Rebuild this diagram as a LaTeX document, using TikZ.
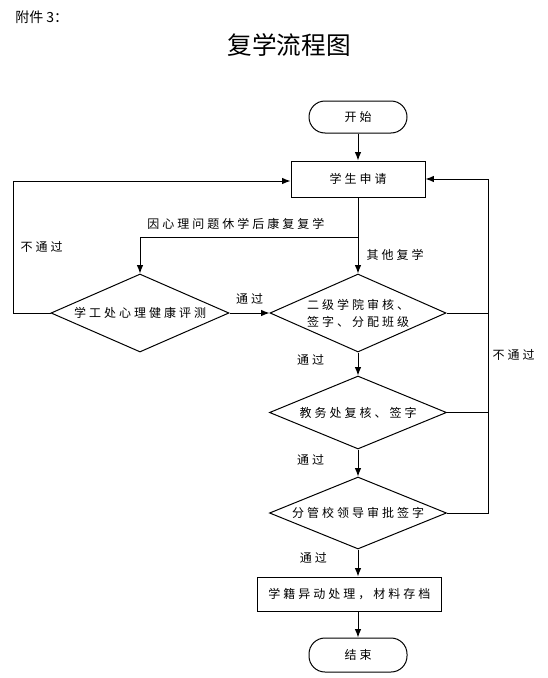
\documentclass[tikz,border=0pt]{standalone}
\usepackage{fontspec}
\usepackage{tikz}
\usetikzlibrary{arrows.meta,positioning,shapes.geometric}
\newfontfamily\cjkfont[LetterSpace=25]{Noto Sans CJK SC}
\newfontfamily\titlefont{Noto Sans CJK SC}
\tikzset{
  flowbox/.style={
    draw,
    line width=0.75pt,
    inner sep=0pt,
    align=center,
    minimum width=100.5pt,
    minimum height=27pt,
    font=\cjkfont\fontsize{9}{12.75}\selectfont
  },
  terminalbox/.style={
    flowbox,
    rounded corners=12pt,
    minimum width=73.5pt,
    minimum height=24pt
  },
  checkblock/.style={
    draw,
    diamond,
    shape aspect=2.3,
    line width=0.75pt,
    inner sep=0pt,
    align=center,
    minimum width=132pt,
    minimum height=58.5pt,
    font=\cjkfont\fontsize{9}{12.75}\selectfont
  },
  flowlabel/.style={inner sep=1pt, font=\cjkfont\fontsize{9}{12.75}\selectfont},
  flowline/.style={line width=0.75pt},
  flowarrow/.style={-{Latex[length=2.2mm,width=1.7mm]}, line width=0.75pt}
}
\begin{document}
\begin{tikzpicture}[x=0.75pt, y=-0.75pt]
\useasboundingbox (0,0) rectangle (547,678);

\node[anchor=west, inner sep=0pt, font=\titlefont\fontsize{10.5}{12}\selectfont] (annex) at (15,17) {附件 3：};
\node[inner sep=0pt, font=\titlefont\fontsize{18.5}{22}\selectfont] (title) at (289,45) {复学流程图};

\node[terminalbox] (start) at (358,117) {开始};
\node[flowbox, below=20.25pt of start] (apply) {学生申请};
\node[checkblock, below=57pt of apply] (college) {二级学院审核、\\签字、分配班级};
\node[checkblock, left=30pt of college, minimum width=133.5pt] (psych) {学工处心理健康评测};
\node[checkblock, below=17.25pt of college, minimum width=132.75pt, minimum height=54.75pt] (office) {教务处复核、签字};
\node[checkblock, below=20.25pt of office, minimum width=132.75pt, minimum height=54pt] (leader) {分管校领导审批签字};
\node[flowbox, below=20.25pt of leader, xshift=-6.4pt, minimum width=138pt, minimum height=25.5pt] (archive) {学籍异动处理，材料存档};
\node[terminalbox, below=19.5pt of archive, xshift=6.4pt, minimum height=25.5pt] (finish) {结束};

\coordinate (split) at ([yshift=-30pt]apply.south);
\coordinate (rline) at ([xshift=30.75pt]leader.east);

\draw[flowarrow] (start) -- (apply);
\draw[flowarrow] (apply) -- node[flowlabel, pos=0.75, right=5pt] (lblother) {其他复学} (college);
\draw[flowarrow] (split) -| node[flowlabel, pos=0.28, above=5pt] (lblpsych) {因心理问题休学后康复复学} (psych.north);
\draw[flowarrow] (psych) -- node[flowlabel, above=5pt] (lblpassA) {通过} (college);
\draw[flowarrow] (psych.west) -- ++(-37,0) |- node[flowlabel, pos=0.25, right=4pt] (lblfailA) {不通过} ([yshift=-1.5pt]apply.west);

\draw[flowarrow] (college) -- node[flowlabel, pos=0.3, left=24pt] (lblpassB) {通过} (office);
\draw[flowarrow] (office) -- node[flowlabel, pos=0.4, left=24pt] (lblpassC) {通过} (leader);
\draw[flowarrow] (leader) -- node[flowlabel, pos=0.3, left=22pt] (lblpassD) {通过} (leader |- archive.north);
\draw[flowarrow] (leader |- archive.south) -- (finish);

\draw[flowarrow] (leader.east) -- (rline) |- node[flowlabel, pos=0.236, right=2pt] (lblfailB) {不通过} (apply.east);
\draw[flowline] (office.east) -- (office.east -| rline);
\draw[flowline] (college.east) -- (college.east -| rline);
\end{tikzpicture}
\end{document}
